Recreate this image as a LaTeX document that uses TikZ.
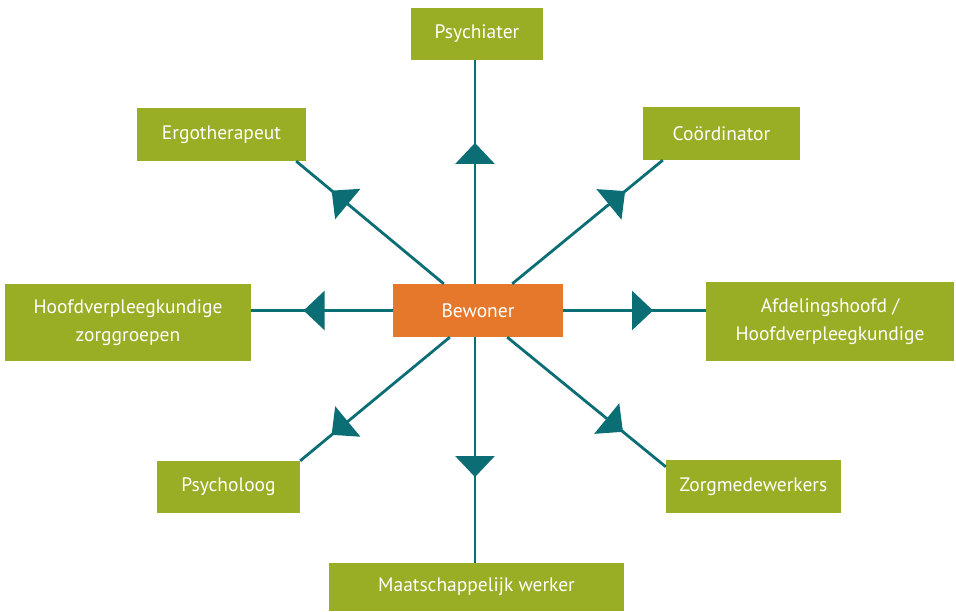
\documentclass[tikz,border=0pt]{standalone}
\usepackage{fontspec}
\setmainfont{PT Sans}
\usetikzlibrary{arrows.meta,decorations.markings}
\definecolor{linkteal}{RGB}{11,110,117}
\definecolor{boxgreen}{RGB}{153,174,36}
\definecolor{boxorange}{RGB}{229,120,43}

\begin{document}
\begin{tikzpicture}[x = 1pt, y = -1pt,
    box/.style = {fill=boxgreen, text=white, inner sep=0pt, align=center,
      font=\fontsize{19.5}{28}\selectfont},
    link/.style = {linkteal, line width=2.8pt, postaction=decorate,
      decoration={markings, mark=at position #1 with
        {\arrow{Triangle[length=21pt,width=39pt]}}}}]
        \useasboundingbox (0,0) rectangle (956,612);
        \node[box, minimum width=132, minimum height=52] (psychiater) at (477,34) {Psychiater};
        \node[box, minimum width=169, minimum height=53] (ergo) at (221.5,134.5) {Ergotherapeut};
        \node[box, minimum width=157, minimum height=53] (coord) at (721.5,133.5) {Coördinator};
        \node[box, minimum width=246, minimum height=77] (hvk) at (128,322.5) {Hoofdverpleegkundige\\zorggroepen};
        \node[box, fill=boxorange, minimum width=170, minimum height=53] (bewoner) at (478,310.5) {Bewoner};
        \node[box, minimum width=248, minimum height=79] (afd) at (830,321.5) {Afdelingshoofd /\\Hoofdverpleegkundige};
        \node[box, minimum width=143, minimum height=52] (psycholoog) at (228.5,487) {Psycholoog};
        \node[box, minimum width=175, minimum height=53] (zorg) at (753.5,486.5) {Zorgmedewerkers};
        \node[box, minimum width=295, minimum height=48] (mw) at (476.5,587) {Maatschappelijk werker};
        \draw[link=0.63] ([xshift=-3]bewoner.north) -- ([xshift=-2]psychiater.south);
        \draw[link=0.62] ([xshift=-3]bewoner.south) -- ([xshift=-1.5]mw.north);
        \draw[link=0.63] (bewoner.west) -- (hvk.east |- bewoner.west);
        \draw[link=0.63] (bewoner.east) -- (afd.west |- bewoner.east);
        \draw[link=0.76] ([xshift=51]bewoner.north west) -- ([xshift=-10]ergo.south east);
        \draw[link=0.75] ([xshift=-51]bewoner.north east) -- ([xshift=20]coord.south west);
        \draw[link=0.79] ([xshift=57]bewoner.south west) -- (psycholoog.north east);
        \draw[link=0.73] ([xshift=-56]bewoner.south east) -- ([yshift=-7]zorg.north west);
      \end{tikzpicture}
\end{document}
